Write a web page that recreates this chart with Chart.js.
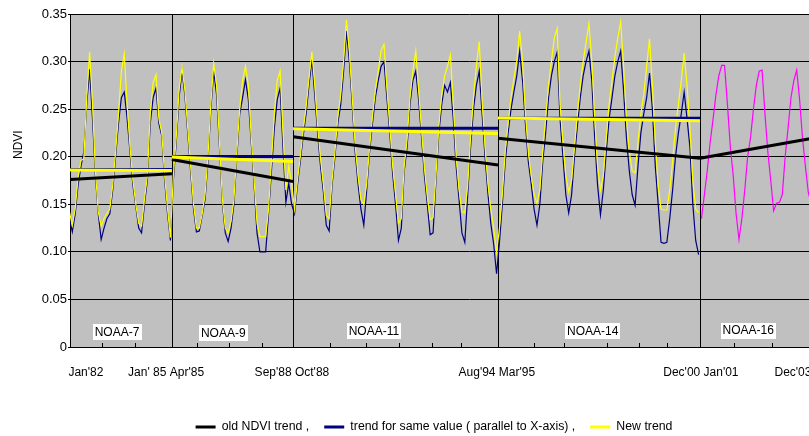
<!DOCTYPE html>
<html><head><meta charset="utf-8">
<script src="https://cdn.jsdelivr.net/npm/chart.js@4.4.1/dist/chart.umd.min.js"></script>
<style>
html,body{margin:0;padding:0;overflow:hidden;background:#fff;width:809px;height:436px}
#wrap{width:868px;height:436px;position:relative}
</style></head><body><div id="wrap"><canvas id="c" width="868" height="436"></canvas></div>
<script>
// ---------- data ----------
const satellites = ['NOAA-7', 'NOAA-9', 'NOAA-11', 'NOAA-14', 'NOAA-16'];

// old NDVI (navy), monthly
const oldNdvi7 = [0.135,0.121,0.140,0.170,0.190,0.205,0.255,0.292,0.240,0.180,0.140,0.113,
  0.125,0.135,0.140,0.165,0.200,0.235,0.262,0.268,0.240,0.205,0.170,0.148,
  0.125,0.120,0.150,0.175,0.235,0.262,0.272,0.235,0.222,0.175,0.140,0.112];
const oldNdvi9 = [0.175,0.215,0.262,0.290,0.265,0.225,0.185,0.145,0.121,0.122,0.138,0.155,
  0.195,0.250,0.290,0.265,0.210,0.152,0.120,0.111,0.125,0.150,0.200,0.245,
  0.262,0.281,0.260,0.215,0.170,0.120,0.100,0.100,0.100,0.140,0.185,0.230,
  0.260,0.272,0.210,0.152,0.172,0.150];
const oldNdvi11 = [0.140,0.170,0.195,0.222,0.245,0.275,0.302,0.265,0.225,0.190,0.163,0.128,
  0.122,0.170,0.200,0.235,0.255,0.290,0.332,0.300,0.255,0.205,0.172,0.145,
  0.128,0.165,0.205,0.235,0.262,0.280,0.295,0.300,0.262,0.225,0.182,0.150,
  0.112,0.125,0.185,0.210,0.255,0.280,0.290,0.260,0.221,0.180,0.150,0.118,
  0.120,0.175,0.225,0.255,0.275,0.268,0.278,0.240,0.190,0.155,0.120,0.110,
  0.160,0.210,0.250,0.275,0.290,0.245,0.200,0.162,0.130,0.108,0.077];
const oldNdvi14 = [0.110,0.150,0.195,0.225,0.250,0.268,0.285,0.311,0.280,0.235,0.195,0.172,
  0.145,0.128,0.150,0.195,0.225,0.262,0.285,0.300,0.310,0.240,0.200,0.160,
  0.141,0.160,0.200,0.232,0.262,0.285,0.300,0.311,0.280,0.220,0.170,0.139,
  0.165,0.205,0.240,0.262,0.285,0.300,0.311,0.270,0.220,0.185,0.160,0.149,
  0.190,0.225,0.245,0.262,0.288,0.250,0.190,0.150,0.110,0.109,0.110,0.135,
  0.165,0.200,0.225,0.245,0.268,0.240,0.210,0.150,0.112,0.097];

// new NDVI (yellow), monthly
const newNdvi7 = [0.142,0.128,0.145,0.178,0.196,0.198,0.262,0.310,0.255,0.185,0.142,0.127,
  0.135,0.140,0.145,0.170,0.205,0.245,0.290,0.308,0.255,0.210,0.175,0.150,
  0.130,0.127,0.155,0.180,0.245,0.278,0.286,0.240,0.225,0.180,0.145,0.115];
const newNdvi9 = [0.180,0.220,0.270,0.294,0.270,0.230,0.190,0.150,0.125,0.125,0.140,0.160,
  0.200,0.255,0.298,0.275,0.215,0.155,0.125,0.120,0.132,0.155,0.205,0.250,
  0.280,0.295,0.275,0.220,0.175,0.130,0.116,0.116,0.116,0.145,0.195,0.245,
  0.280,0.290,0.225,0.165,0.190,0.172];
const newNdvi11 = [0.145,0.175,0.200,0.228,0.252,0.282,0.310,0.275,0.232,0.198,0.170,0.138,
  0.135,0.175,0.205,0.242,0.265,0.300,0.344,0.310,0.262,0.212,0.180,0.155,
  0.150,0.172,0.210,0.242,0.270,0.290,0.312,0.318,0.272,0.232,0.190,0.160,
  0.130,0.135,0.190,0.218,0.262,0.290,0.311,0.270,0.228,0.188,0.158,0.134,
  0.136,0.180,0.232,0.265,0.285,0.295,0.307,0.255,0.200,0.165,0.142,0.141,
  0.170,0.220,0.262,0.295,0.321,0.258,0.210,0.172,0.145,0.125,0.099];
const newNdvi14 = [0.125,0.160,0.205,0.235,0.262,0.282,0.300,0.332,0.300,0.245,0.205,0.180,
  0.160,0.151,0.165,0.205,0.240,0.275,0.300,0.325,0.335,0.255,0.215,0.180,
  0.163,0.175,0.210,0.245,0.275,0.300,0.320,0.340,0.300,0.240,0.190,0.165,
  0.180,0.220,0.255,0.280,0.305,0.325,0.342,0.295,0.240,0.205,0.185,0.183,
  0.215,0.245,0.265,0.295,0.324,0.275,0.215,0.170,0.145,0.144,0.144,0.165,
  0.195,0.230,0.255,0.280,0.309,0.275,0.230,0.175,0.145,0.141];

// NOAA-16 NDVI (magenta), monthly
const ndvi16 = [0.135,0.160,0.185,0.215,0.239,0.265,0.285,0.296,0.296,0.255,0.210,0.180,
  0.140,0.113,0.135,0.165,0.200,0.220,0.250,0.275,0.290,0.291,0.245,0.205,
  0.175,0.143,0.151,0.152,0.160,0.200,0.230,0.262,0.280,0.291,0.260,0.220,
  0.190,0.163,0.150];

// trend lines per satellite (start value, end value)
const oldTrendStart = [0.176, 0.197, 0.221, 0.2194, 0.1984];
const oldTrendEnd   = [0.182, 0.174, 0.1914, 0.1984, 0.2195];
const sameValueTrend = [0.1865, 0.2003, 0.2300, 0.2404, null];
const newTrendStart = [0.186, 0.1998, 0.2295, 0.2408, null];
const newTrendEnd   = [0.1855, 0.1950, 0.2245, 0.2378, null];

// x-axis tick labels
const xTickLabels = ["Jan'82", "Jan' 85 Apr'85", "Sep'88 Oct'88", "Aug'94 Mar'95", "Dec'00 Jan'01", "Dec'03"];
const xTickPos = [5.7, 33.5, 77.1, 148.1, 218.8, 250.7];
const minorTickPos = [11.4, 22.8, 44.3, 55.4, 66.8, 90.4, 102.8, 114.3, 125.7, 135.7, 161.1, 171.4, 186.3, 197.4, 207.1, 230.3, 243.5];

// ---------- layout helpers (not data) ----------
const SANS = "'Liberation Sans', Arial, sans-serif";
const satLabelAnchor = { x: [16.5, 53.3, 105.5, 181.3, 235.2], y: [0.016, 0.0143, 0.0163, 0.0167, 0.0172] };

const oldSegs = [oldNdvi7, oldNdvi9, oldNdvi11, oldNdvi14];
const newSegs = [newNdvi7, newNdvi9, newNdvi11, newNdvi14];
const segLengths = [...oldSegs.map(a => a.length), ndvi16.length];
const segStart = []; { let acc = 0; for (const n of segLengths) { segStart.push(acc); acc += n; } }

const toPts = (arr, off) => arr.map((v, i) => ({ x: off + i, y: v }));
const oldPts = oldSegs.flatMap((a, k) => toPts(a, segStart[k]));
const newPts = newSegs.flatMap((a, k) => toPts(a, segStart[k]));
const pts16 = toPts(ndvi16, segStart[4]);

function segRange(k) { return [segStart[k] - 0.5, segStart[k] + segLengths[k] - 0.5]; }
function trendPts(sv, ev) {
  const p = [];
  sv.forEach((s, k) => {
    if (s == null) return;
    const [a, b] = segRange(k);
    p.push({ x: a, y: s }, { x: b, y: ev[k] }, { x: b, y: null });
  });
  return p;
}

const bgPlugin = {
  id: 'bg',
  beforeDraw(chart) {
    const { ctx, chartArea: a } = chart;
    ctx.save(); ctx.fillStyle = '#C0C0C0';
    ctx.fillRect(a.left, a.top, a.right - a.left, a.bottom - a.top);
    ctx.restore();
  },
  beforeDatasetsDraw(chart) {
    const { ctx, chartArea: a, scales: { x } } = chart;
    ctx.save(); ctx.strokeStyle = '#000'; ctx.lineWidth = 1;
    for (let k = 1; k < segStart.length; k++) {
      const px = Math.round(x.getPixelForValue(segStart[k] - 0.5)) + 0.5;
      ctx.beginPath(); ctx.moveTo(px, a.top); ctx.lineTo(px, a.bottom); ctx.stroke();
    }
    ctx.restore();
  },
  afterDatasetsDraw(chart) {
    const { ctx, chartArea: a, scales: { x, y } } = chart;
    ctx.save();
    ctx.strokeStyle = '#000'; ctx.lineWidth = 1;
    minorTickPos.forEach(v => {
      const px = Math.round(x.getPixelForValue(v)) + 0.5;
      ctx.beginPath(); ctx.moveTo(px, a.bottom); ctx.lineTo(px, a.bottom - 4); ctx.stroke();
    });
    ctx.font = '12px ' + SANS;
    ctx.textAlign = 'center'; ctx.textBaseline = 'middle';
    satellites.forEach((s, k) => {
      const px = x.getPixelForValue(satLabelAnchor.x[k]);
      const py = y.getPixelForValue(satLabelAnchor.y[k]);
      const w = ctx.measureText(s).width;
      ctx.fillStyle = '#fff';
      ctx.fillRect(Math.round(px - w / 2 - 2), Math.round(py - 8), Math.round(w + 4), 16);
      ctx.fillStyle = '#000';
      ctx.fillText(s, px, py + 0.5);
    });
    ctx.restore();
  },
  afterDraw(chart) {
    const { ctx } = chart;
    ctx.save();
    ctx.font = '12px ' + SANS; ctx.fillStyle = '#000';
    ctx.translate(18.7, 144.7); ctx.rotate(-Math.PI / 2);
    ctx.textAlign = 'center'; ctx.textBaseline = 'middle';
    ctx.fillText('NDVI', 0, 0);
    ctx.restore();
  }
};

new Chart(document.getElementById('c'), {
  type: 'line',
  data: {
    datasets: [
      { label: 'old NDVI trend ,', data: trendPts(oldTrendStart, oldTrendEnd), borderColor: '#000000', backgroundColor: '#000000', borderWidth: 3, order: 2 },
      { label: 'trend for same value ( parallel to X-axis) ,', data: trendPts(sameValueTrend, sameValueTrend), borderColor: '#000080', backgroundColor: '#000080', borderWidth: 3, order: 1 },
      { label: 'New trend', data: trendPts(newTrendStart, newTrendEnd), borderColor: '#FFFF00', backgroundColor: '#FFFF00', borderWidth: 3, order: 0 },
      { label: 'new NDVI', data: newPts, borderColor: '#FFFF00', borderWidth: 1.2, order: 3 },
      { label: 'old NDVI', data: oldPts, borderColor: '#000080', borderWidth: 1.2, order: 4 },
      { label: 'NOAA-16 NDVI', data: pts16, borderColor: '#FF00FF', borderWidth: 1.2, order: 5 }
    ]
  },
  options: {
    responsive: false, animation: false, devicePixelRatio: 1, events: [],
    spanGaps: false,
    elements: { point: { radius: 0 }, line: { tension: 0 } },
    layout: { padding: { top: 14, left: 0, right: 0, bottom: -7.2 } },
    scales: {
      x: {
        type: 'linear', min: 0.2, max: 276.7,
        afterBuildTicks: s => { s.ticks = xTickPos.map(v => ({ value: v })); },
        afterFit: s => { s.height = 58.9; },
        ticks: { autoSkip: false, maxRotation: 0, minRotation: 0, padding: 18, color: '#000',
          font: { family: SANS, size: 12 }, callback: (v, i) => xTickLabels[i] },
        grid: { display: false, drawTicks: false },
        border: { display: true, color: '#000', width: 1 }
      },
      y: {
        min: 0, max: 0.35,
        afterFit: s => { s.width = 70; },
        ticks: { stepSize: 0.05, color: '#000', padding: 1, font: { family: SANS, size: 13 },
          callback: v => Math.abs(v) < 1e-9 ? '0' : Number(v).toFixed(2) },
        grid: { color: '#000', lineWidth: 1, tickLength: 2, drawTicks: true },
        border: { color: '#000', width: 1 }
      }
    },
    plugins: {
      tooltip: { enabled: false },
      legend: {
        position: 'bottom',
        labels: {
          usePointStyle: true, pointStyle: 'line', pointStyleWidth: 20,
          color: '#000', padding: 15, font: { family: SANS, size: 12.3 },
          filter: item => item.datasetIndex < 3,
          sort: (a, b) => a.datasetIndex - b.datasetIndex
        }
      }
    }
  },
  plugins: [bgPlugin]
});
</script></body></html>
